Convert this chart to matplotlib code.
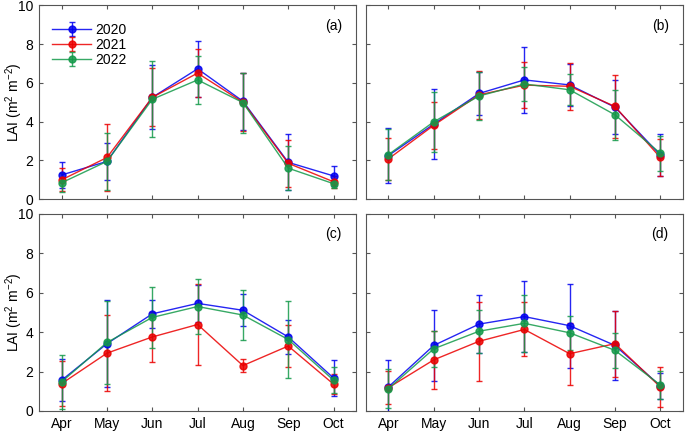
import matplotlib
matplotlib.use("Agg")
import matplotlib.pyplot as plt
import numpy as np

plt.rcParams['font.family'] = ['Liberation Sans', 'DejaVu Sans']
plt.rcParams['font.size'] = 10
plt.rcParams['mathtext.fontset'] = 'custom'
plt.rcParams['mathtext.rm'] = 'Liberation Sans'
plt.rcParams['mathtext.it'] = 'Liberation Sans:italic'

months = ['Apr', 'May', 'Jun', 'Jul', 'Aug', 'Sep', 'Oct']
years = ['2020', '2021', '2022']
colors = ['#0000f0', '#eb0000', '#149a4a']
panel_labels = ['(a)', '(b)', '(c)', '(d)']

# mean LAI per panel, per year
a_mean = [[1.25, 1.95, 5.25, 6.72, 5.05, 1.90, 1.20],
          [1.00, 2.15, 5.25, 6.50, 5.00, 1.85, 0.90],
          [0.85, 1.95, 5.15, 6.15, 4.98, 1.60, 0.80]]
a_err = [[0.65, 0.97, 1.65, 1.45, 1.47, 1.45, 0.50],
         [0.60, 1.75, 1.50, 1.25, 1.50, 1.20, 0.30],
         [0.50, 1.45, 1.95, 1.25, 1.55, 1.15, 0.20]]

b_mean = [[2.25, 3.87, 5.45, 6.15, 5.89, 4.74, 2.28],
          [2.08, 3.81, 5.38, 5.88, 5.82, 4.78, 2.15],
          [2.30, 3.99, 5.32, 5.94, 5.64, 4.35, 2.37]]
b_err = [[1.42, 1.80, 1.10, 1.70, 1.10, 1.40, 1.10],
         [1.10, 1.20, 1.25, 1.17, 1.22, 1.60, 0.95],
         [1.30, 1.55, 1.25, 0.86, 0.80, 1.30, 0.90]]

c_mean = [[1.56, 3.41, 4.92, 5.45, 5.10, 3.75, 1.67],
          [1.39, 2.93, 3.75, 4.38, 2.30, 3.29, 1.36],
          [1.48, 3.47, 4.74, 5.29, 4.86, 3.62, 1.56]]
c_err = [[1.07, 2.22, 0.70, 0.92, 0.81, 0.87, 0.90],
         [1.12, 1.93, 1.25, 2.03, 0.33, 1.07, 0.50],
         [1.38, 2.08, 1.56, 1.37, 1.28, 1.97, 0.65]]

d_mean = [[1.22, 3.32, 4.40, 4.78, 4.32, 3.32, 1.27],
          [1.18, 2.59, 3.53, 4.13, 2.90, 3.41, 1.22],
          [1.13, 3.15, 4.04, 4.44, 3.96, 3.07, 1.32]]
d_err = [[1.35, 1.78, 1.45, 1.80, 2.12, 1.75, 0.65],
         [0.85, 1.47, 2.00, 1.37, 1.57, 1.67, 1.00],
         [1.00, 0.90, 1.08, 1.45, 0.87, 0.88, 0.72]]

means = [a_mean, b_mean, c_mean, d_mean]
errs = [a_err, b_err, c_err, d_err]

fig = plt.figure(figsize=(6.85, 4.34), dpi=100)
boxes = [[0.057, 0.541, 0.463, 0.447],
         [0.534, 0.541, 0.463, 0.447],
         [0.057, 0.053, 0.463, 0.455],
         [0.534, 0.053, 0.463, 0.455]]

x = np.arange(len(months))
for k, box in enumerate(boxes):
    ax = fig.add_axes(box)
    for i in range(3):
        ax.errorbar(x, means[k][i], yerr=errs[k][i], color=colors[i],
                    marker='o', markersize=5, lw=1, elinewidth=1,
                    capsize=2.5, capthick=1, alpha=0.85, label=years[i])
    ax.set_xlim(-0.5, 6.5)
    ax.set_ylim(0, 10)
    ax.set_yticks([0, 2, 4, 6, 8, 10])
    ax.set_xticks(x)
    ax.tick_params(direction='in', top=True, right=True, length=3,
                   color='#555555', labelsize=10, pad=4)
    for s in ax.spines.values():
        s.set_color('#555555')
        s.set_linewidth(0.8)
    if k < 2:
        ax.set_xticklabels([])
    else:
        ax.set_xticklabels(months)
    if k % 2 == 1:
        ax.set_yticklabels([])
    else:
        ax.set_ylabel(r'LAI (m$^{2}$ m$^{-2}$)')
        ax.yaxis.label.set_va('center')
        ax.yaxis.set_label_coords(-0.078, 0.5)
    ax.text(0.955, 0.895, panel_labels[k], transform=ax.transAxes,
            ha='right', va='center', fontsize=10)
    if k == 0:
        ax.legend(loc='upper left', bbox_to_anchor=(0.0, 0.975),
                  frameon=False, fontsize=10, handlelength=2.8,
                  borderaxespad=0.55, labelspacing=0.05, handletextpad=0.3)

fig.savefig('out.png', dpi=100)
